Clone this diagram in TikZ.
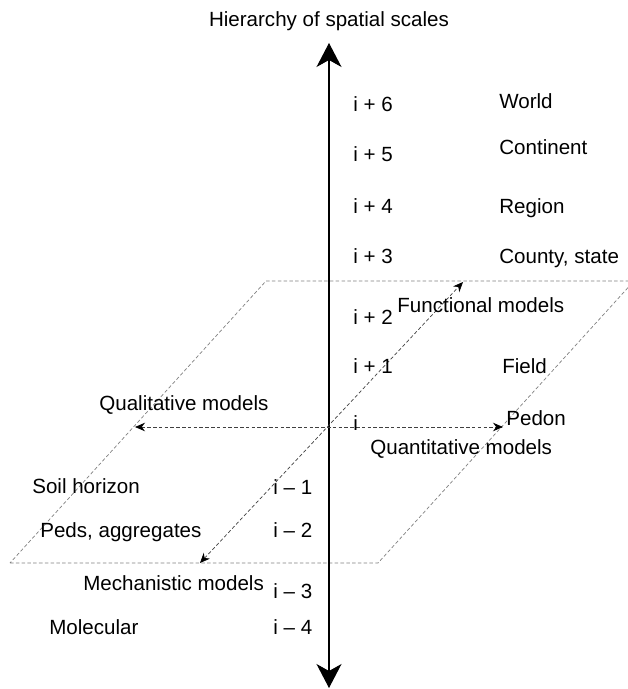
\documentclass[tikz,border=0pt]{standalone}
\usepackage{fontspec}
\setmainfont{Liberation Sans}
\usetikzlibrary{arrows.meta}
\tikzset{
  lbl/.style={anchor=base west, inner sep=0pt, font=\fontsize{11.7}{14}\selectfont},
  plane/.style={black!50, dash pattern=on 2pt off 1.3pt, line width=0.4pt},
  modelarrows/.style={black!75, dash pattern=on 2pt off 1.3pt, line width=0.4pt,
    {Stealth[length=0.2cm,width=0.17cm,black]}-{Stealth[length=0.2cm,width=0.17cm,black]}},
  axisarrows/.style={line width=0.6pt,
    {Stealth[length=0.48cm,width=0.5cm,inset=0.14cm]}-{Stealth[length=0.48cm,width=0.5cm,inset=0.14cm]}},
}
\begin{document}
\begin{tikzpicture}[x=0.02cm, y=-0.02cm]
        \useasboundingbox (0,0) rectangle (628,689);

        % Plane of the parallelogram
        \coordinate (pBL) at (10,563);
        \coordinate (pBR) at (378,563);
        \coordinate (pTR) at (634,281);
        \coordinate (pTL) at (266,281);
        \draw[plane] (pBL) -- (pBR) -- (pTR) -- (pTL) -- cycle;

        % Vertical axis of scales
        \coordinate (axTop) at (329,43);
        \coordinate (axBot) at (329,688);
        \draw[axisarrows] (axTop) -- (axBot);
        \node[lbl, anchor=base] (title) at (329,27) {Hierarchy of spatial scales};

        % Model arrows in the plane
        \coordinate (qualTip) at (135,427);
        \coordinate (quantTip) at (503,427);
        \coordinate (mechTip) at (200,563);
        \coordinate (funcTip) at (463,282);
        \draw[modelarrows] (qualTip) -- (quantTip);
        \draw[modelarrows] (mechTip) -- (funcTip);

        % Scale levels
        \node[lbl] (lvP6) at (353,112) {i + 6};
        \node[lbl] (lvP5) at (353,162) {i + 5};
        \node[lbl] (lvP4) at (353,214) {i + 4};
        \node[lbl] (lvP3) at (353,263) {i + 3};
        \node[lbl] (lvP2) at (353,324) {i + 2};
        \node[lbl] (lvP1) at (353,373) {i + 1};
        \node[lbl] (lv0) at (353,430) {i};
        \node[lbl] (lvM1) at (273,494) {i -- 1};
        \node[lbl] (lvM2) at (273,537) {i -- 2};
        \node[lbl] (lvM3) at (273,598) {i -- 3};
        \node[lbl] (lvM4) at (273,634) {i -- 4};

        % Spatial units
        \node[lbl] (world) at (499,109) {World};
        \node[lbl] (continent) at (499,155) {Continent};
        \node[lbl] (region) at (499,214) {Region};
        \node[lbl] (county) at (499,263) {County, state};
        \node[lbl] (field) at (502,373) {Field};
        \node[lbl] (pedon) at (506,425) {Pedon};
        \node[lbl] (horizon) at (32,493) {Soil horizon};
        \node[lbl] (peds) at (40,537) {Peds, aggregates};
        \node[lbl] (molecular) at (49,634) {Molecular};

        % Model types
        \node[lbl] (functional) at (397,312) {Functional models};
        \node[lbl] (qualitative) at (99,410) {Qualitative models};
        \node[lbl] (quantitative) at (370,454) {Quantitative models};
        \node[lbl] (mechanistic) at (83,590) {Mechanistic models};
\end{tikzpicture}
\end{document}
